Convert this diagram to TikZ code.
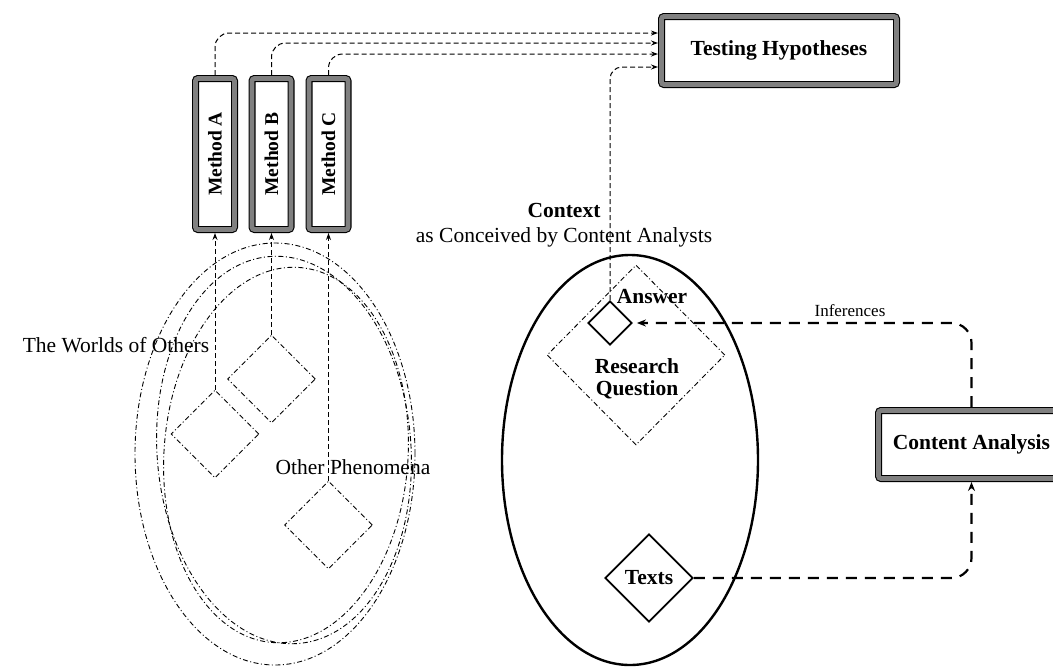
\documentclass[tikz,border=0pt]{standalone}
\usepackage{fontspec}
\setmainfont{Liberation Serif}
\usetikzlibrary{shapes.geometric,arrows.meta,calc}

\begin{document}
\begin{tikzpicture}[x=1pt,y=-1pt,
  txt/.style={font=\fontsize{21.5}{23}\selectfont, inner sep=0pt},
  txtb/.style={font=\fontsize{21.5}{22}\selectfont\bfseries, inner sep=0pt},
  framebox/.style={draw=black, line width=1.1pt, double=black!50, double distance=4.8pt,
    rounded corners=2.5pt, outer sep=3.5pt, inner sep=0pt, fill=white,
    font=\fontsize{21.5}{23}\selectfont\bfseries},
  methodbox/.style={framebox, minimum width=39pt, minimum height=151pt,
    font=\fontsize{19.5}{21}\selectfont\bfseries},
  dashdot/.style={line width=0.9pt, dash pattern=on 5pt off 2.5pt on 1pt off 2.5pt},
  world/.style={diamond, draw, dashdot, inner sep=0pt, minimum width=88pt, minimum height=88pt},
  solidgem/.style={diamond, draw, line width=1.8pt, inner sep=0pt},
  conn/.style={line width=1pt, dash pattern=on 5pt off 3pt,
    -{Stealth[length=7pt,width=5pt]}},
  flow/.style={line width=2.2pt, dash pattern=on 11pt off 8pt, rounded corners=20pt,
    -{Stealth[length=9pt,width=7pt]}}
]
\useasboundingbox (0,0) rectangle (1053,667);

% target box and the three methods
\node[framebox, minimum width=235pt, minimum height=68pt] (TH) at (779,50.5) {Testing Hypotheses};
\node[methodbox] (mA) at (215,154) {\rotatebox{90}{Method A}};
\node[methodbox] (mB) at (271.5,154) {\rotatebox{90}{Method B}};
\node[methodbox] (mC) at (328.5,154) {\rotatebox{90}{Method C}};

% entry points on the left side of the target box
\coordinate (t1) at ($(TH.north west)!0.267!(TH.south west)$);
\coordinate (t2) at ($(TH.north west)!0.40!(TH.south west)$);
\coordinate (t3) at ($(TH.north west)!0.547!(TH.south west)$);
\coordinate (t4) at ($(TH.north west)!0.72!(TH.south west)$);

% the worlds of others
\node[ellipse, draw, dashdot, minimum width=280pt, minimum height=422pt] (w1) at (275,454) {};
\node[ellipse, draw, dashdot, minimum width=254pt, minimum height=388pt, rotate=4] (w2) at (284,450) {};
\node[ellipse, draw, dashdot, minimum width=244pt, minimum height=376pt, rotate=-4] (w3) at (286,455) {};
\node[world] (wA) at (215,434) {};
\node[world] (wB) at (271.5,379) {};
\node[world] (wC) at (328.5,525) {};
\node[txt] (worlds) at (116,345) {The Worlds of Others};
\node[txt] (other) at (353,467) {Other Phenomena};

% context of the content analyst
\node[ellipse, draw, line width=2.4pt, minimum width=256pt, minimum height=410pt] (ctx) at (630,460) {};
\node[txt, align=center, font=\fontsize{21.5}{25}\selectfont] (ctxt) at (564,225)
  {\textbf{Context}\\as Conceived by Content Analysts};
\node[diamond, draw, dashdot, inner sep=0pt, minimum width=178pt, minimum height=180pt] (rq) at (636,355) {};
\node[txtb, align=center] (rqt) at (637,379) {Research\\Question};
\node[solidgem, minimum width=44pt, minimum height=44pt] (ans) at (610,323) {};
\node[txtb] (anst) at (652,297) {Answer};
\node[solidgem, minimum width=88pt, minimum height=88pt, font=\fontsize{21.5}{23}\selectfont\bfseries] (tx) at (649,578) {Texts};

% content analysis
\node[framebox, minimum width=186pt, minimum height=68pt] (CA) at (971.5,444.5) {Content Analysis};

% methods feeding the hypothesis test
\draw[conn] (wA.north) -- (mA.south);
\draw[conn] (wB.north) -- (mB.south);
\draw[conn] (wC.north) -- (mC.south);
\draw[conn, rounded corners=14pt] (mA.north) |- (t1);
\draw[conn, rounded corners=14pt] (mB.north) |- (t2);
\draw[conn, rounded corners=14pt] (mC.north) |- (t3);
\draw[conn, rounded corners=12pt] (ans.north) |- (t4);

% the analytical path
\draw[flow, shorten >=4pt] (CA.north) |- (ans.east);
\draw[flow] (tx.east) -| (CA.south);
\node[font=\fontsize{17}{19}\selectfont, inner sep=0pt] (inf) at (850,311) {Inferences};
\end{tikzpicture}
\end{document}
